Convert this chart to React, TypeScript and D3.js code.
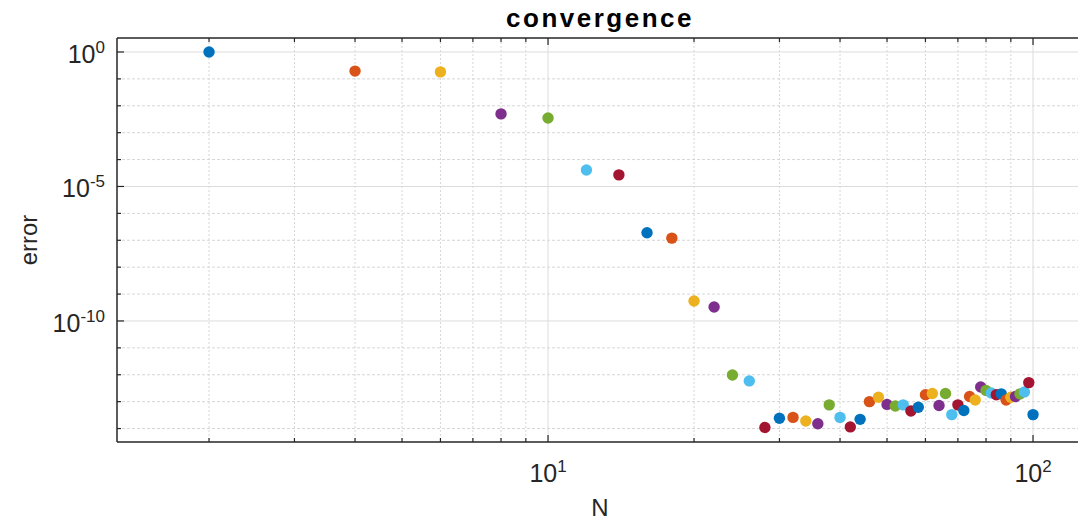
import React, { useEffect, useRef } from "react";
import * as d3 from "d3";

// N values (even, 2..100)
const nValues = [
  2, 4, 6, 8, 10, 12, 14, 16, 18, 20, 22, 24, 26, 28, 30, 32, 34, 36, 38, 40,
  42, 44, 46, 48, 50, 52, 54, 56, 58, 60, 62, 64, 66, 68, 70, 72, 74, 76, 78, 80,
  82, 84, 86, 88, 90, 92, 94, 96, 98, 100,
];

// error
const errors = [
  1.0, 1.95e-1, 1.82e-1, 5.0e-3, 3.5e-3, 4.1e-5, 2.7e-5, 1.9e-7, 1.2e-7, 5.5e-10,
  3.3e-10, 9.8e-13, 5.9e-13, 1.1e-14, 2.4e-14, 2.6e-14, 1.9e-14, 1.5e-14, 7.6e-14, 2.6e-14,
  1.15e-14, 2.2e-14, 1.0e-13, 1.45e-13, 7.9e-14, 6.9e-14, 7.6e-14, 4.5e-14, 6.2e-14, 1.8e-13,
  2.0e-13, 7.2e-14, 2.0e-13, 3.3e-14, 7.6e-14, 4.7e-14, 1.55e-13, 1.15e-13, 3.5e-13, 2.6e-13,
  2.1e-13, 1.8e-13, 1.95e-13, 1.15e-13, 1.45e-13, 1.55e-13, 1.95e-13, 2.3e-13, 5.1e-13, 3.3e-14,
];

// MATLAB default colour order
const colorOrder = ["#0072BD", "#D95319", "#EDB120", "#7E2F8E", "#77AC30", "#4DBEEE", "#A2142F"];

const xMajor = [10, 100];
const xMinor = [2, 3, 4, 5, 6, 7, 8, 9, 20, 30, 40, 50, 60, 70, 80, 90];
const xTickLabels = ["1", "2"];
const yMajor = [1e0, 1e-5, 1e-10];
const yMinor = [1e-1, 1e-2, 1e-3, 1e-4, 1e-6, 1e-7, 1e-8, 1e-9, 1e-11, 1e-12, 1e-13, 1e-14];
const yTickLabels = ["0", "-5", "-10"];

const W = 1078;
const H = 522;
const left = 117;
const right = 1078;
const top = 38;
const bottom = 442;

export default function App() {
  const ref = useRef<SVGSVGElement>(null);

  useEffect(() => {
    const svg = d3.select(ref.current);
    svg.selectAll("*").remove();

    const x = d3.scaleLog().domain([1.292, 123.8]).range([left, right]);
    const y = d3.scaleLog().domain([Math.pow(10, 0.52), Math.pow(10, -14.5)]).range([top, bottom]);

    const font = "'Liberation Sans', Arial, Helvetica, sans-serif";
    const axisColor = "#262626";

    svg.append("rect").attr("width", W).attr("height", H).attr("fill", "#fff");

    const grid = svg.append("g");
    // minor grid
    grid.selectAll(".xminor").data(xMinor).enter().append("line")
      .attr("x1", d => x(d)).attr("x2", d => x(d))
      .attr("y1", top).attr("y2", bottom)
      .attr("stroke", "#d6d6d6").attr("stroke-width", 1).attr("stroke-dasharray", "2,2");
    grid.selectAll(".yminor").data(yMinor).enter().append("line")
      .attr("x1", left).attr("x2", right)
      .attr("y1", d => y(d)).attr("y2", d => y(d))
      .attr("stroke", "#d6d6d6").attr("stroke-width", 1).attr("stroke-dasharray", "3,2");
    // major grid
    grid.selectAll(".xmajor").data(xMajor).enter().append("line")
      .attr("x1", d => x(d)).attr("x2", d => x(d))
      .attr("y1", top).attr("y2", bottom)
      .attr("stroke", "#dcdcdc").attr("stroke-width", 1);
    grid.selectAll(".ymajor").data(yMajor).enter().append("line")
      .attr("x1", left).attr("x2", right)
      .attr("y1", d => y(d)).attr("y2", d => y(d))
      .attr("stroke", "#dcdcdc").attr("stroke-width", 1);

    // points
    svg.append("g").selectAll("circle").data(nValues).enter().append("circle")
      .attr("cx", d => x(d))
      .attr("cy", (d, i) => y(errors[i]))
      .attr("r", 5.7)
      .attr("fill", (d, i) => colorOrder[i % colorOrder.length]);

    // axes box lines
    const ax = svg.append("g").attr("stroke", axisColor).attr("stroke-width", 1.5);
    ax.append("line").attr("x1", left).attr("x2", right).attr("y1", bottom).attr("y2", bottom);
    ax.append("line").attr("x1", left).attr("x2", right).attr("y1", top).attr("y2", top);
    ax.append("line").attr("x1", left).attr("x2", left).attr("y1", top).attr("y2", bottom);

    // ticks
    const ticks = svg.append("g").attr("stroke", axisColor).attr("stroke-width", 1.2);
    xMajor.concat(xMinor).forEach(v => {
      const len = xMajor.includes(v) ? 7 : 4;
      ticks.append("line").attr("x1", x(v)).attr("x2", x(v)).attr("y1", bottom).attr("y2", bottom - len);
      ticks.append("line").attr("x1", x(v)).attr("x2", x(v)).attr("y1", top).attr("y2", top + len);
    });
    yMajor.concat(yMinor).forEach(v => {
      const len = yMajor.includes(v) ? 7 : 4;
      ticks.append("line").attr("x1", left).attr("x2", left + len).attr("y1", y(v)).attr("y2", y(v));
    });

    // tick labels
    xMajor.forEach((v, i) => {
      const t = svg.append("text")
        .attr("x", x(v)).attr("y", 482)
        .attr("text-anchor", "middle")
        .attr("font-family", font).attr("font-size", 25).attr("fill", axisColor);
      t.append("tspan").text("10");
      t.append("tspan").attr("dy", -10).attr("font-size", 17).text(xTickLabels[i]);
    });
    yMajor.forEach((v, i) => {
      const t = svg.append("text")
        .attr("x", 105).attr("y", y(v) + 11)
        .attr("text-anchor", "end")
        .attr("font-family", font).attr("font-size", 25).attr("fill", axisColor);
      t.append("tspan").text("10");
      t.append("tspan").attr("dy", -10).attr("font-size", 17).text(yTickLabels[i]);
    });

    // labels
    svg.append("text")
      .attr("x", 600).attr("y", 27)
      .attr("text-anchor", "middle")
      .attr("font-family", font).attr("font-size", 26).attr("font-weight", "bold")
      .attr("letter-spacing", 2.5).attr("fill", "#000")
      .text("convergence");
    svg.append("text")
      .attr("x", 600).attr("y", 516)
      .attr("text-anchor", "middle")
      .attr("font-family", font).attr("font-size", 24).attr("fill", axisColor)
      .text("N");
    svg.append("text")
      .attr("transform", `translate(37,${(top + bottom) / 2}) rotate(-90)`)
      .attr("text-anchor", "middle")
      .attr("font-family", font).attr("font-size", 24).attr("fill", axisColor)
      .text("error");
  }, []);

  return (
    <svg
      ref={ref}
      width={W}
      height={H}
      style={{ position: "absolute", left: 0, top: 0, display: "block" }}
    />
  );
}
